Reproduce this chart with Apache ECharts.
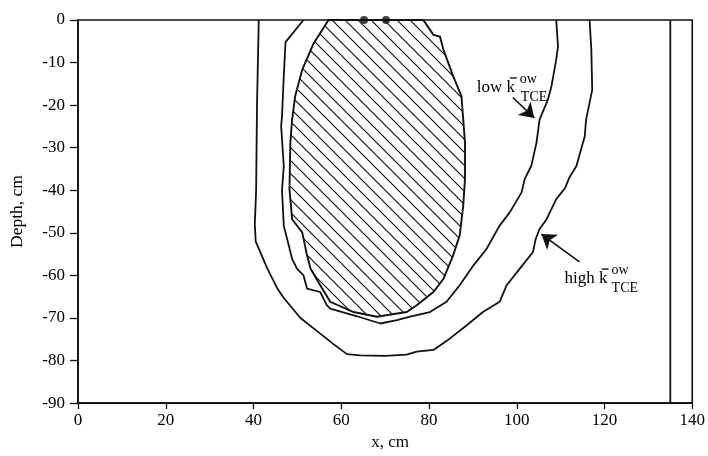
<!DOCTYPE html>
<html><head><meta charset="utf-8">
<script src="https://cdn.jsdelivr.net/npm/echarts@6/dist/echarts.min.js"></script>
<style>html,body{margin:0;padding:0;background:#fff}#c{width:708px;height:456px}</style>
</head><body><div id="c"></div>
<script>
// ---- data ----
const xTicks = [0, 20, 40, 60, 80, 100, 120, 140];
const yTicks = [-90, -80, -70, -60, -50, -40, -30, -20, -10, 0];

// outer contour (high k)
const highK = [
  [41.2,0],[41.0,-10],[40.8,-20],[40.7,-30],[40.6,-40],[40.3,-48],[40.5,-52],[43.1,-58.3],
  [45.4,-63],[46.9,-65.3],[50.7,-70],[54.5,-73.1],[58.3,-76.2],[61.3,-78.5],[64.3,-78.8],
  [70,-78.9],[74.9,-78.6],[77.2,-77.9],[81.0,-77.5],[84.8,-74.8],[88.6,-71.7],[92.3,-68.6],
  [96.1,-66.2],[97.7,-62.3],[100.7,-58.4],[103.7,-54.5],[104.3,-51.5],[105.2,-49.1],
  [106.8,-46.8],[109.0,-42.1],[111.0,-39.5],[112.0,-37],[113.6,-34.3],[115.5,-27.3],
  [115.8,-23.4],[117.2,-16.4],[117.0,-7.0],[116.6,0]
];
// middle contour (low k)
const lowK = [
  [51.4,0],[47.3,-5.2],[46.9,-13.2],[46.5,-22.6],[46.3,-24.9],[46.9,-34.3],[46.5,-40],
  [46.9,-48.3],[48.8,-56.1],[49.9,-58.4],[51.4,-60.0],[52.2,-63.1],[55.2,-63.9],[56.7,-67.0],
  [57.5,-67.8],[63.6,-69.6],[68.9,-71.3],[72.7,-70.5],[75.7,-69.7],[80.2,-68.6],[84.0,-66.2],
  [87.0,-62.3],[90.1,-57.7],[93.1,-53.8],[96.1,-48.3],[98.4,-45.2],[101.1,-40.5],[101.8,-37.4],
  [103.3,-34.3],[104.5,-28.8],[105.2,-23.4],[107.1,-18.7],[107.9,-15.6],[109.0,-9.3],
  [109.4,-6.2],[109.0,0]
];
// hatched region
const hatchRegion = [
  [57.1,0],[53.7,-5.5],[51.1,-11.7],[49.5,-17.9],[48.8,-23.4],[48.4,-28.8],[48.2,-39.7],
  [48.8,-46.8],[51.1,-49.9],[52.2,-55.3],[53.0,-58.4],[55.2,-62.3],[57.5,-66.2],[62.8,-68.6],
  [68.1,-69.7],[74.9,-68.6],[77.2,-67.0],[81.0,-63.9],[83.3,-60.8],[85.5,-55.3],[87.0,-50.6],
  [87.8,-43.6],[88.2,-37.4],[88.2,-28.8],[87.4,-17.9],[85.5,-13.2],[83.3,-7.0],[82.5,-3.9],
  [81.0,-3.5],[78.7,0]
];
// source points at the surface
const sourcePoints = [[65.2,0],[70.2,0]];
// right boundary line
const boundaryLine = [[135,0],[135,-90]];
// annotation arrows [from, to]
const lowArrow = [[99.1,-18.2],[104.0,-23.0]];
const highArrow = [[114.3,-56.8],[105.6,-50.3]];
// annotation anchors (left end of baseline)
const lowLabelAt = [90.9,-16.9];
const highLabelAt = [110.9,-61.8];

// ---- chart ----
const FONT = 'Liberation Serif';
const hatchCanvas = document.createElement('canvas');
(function(){
  const s = 13; hatchCanvas.width = s; hatchCanvas.height = s;
  const g = hatchCanvas.getContext('2d');
  g.strokeStyle = '#111'; g.lineWidth = 1.15;
  g.beginPath();
  g.moveTo(-2,-2); g.lineTo(s+2,s+2);
  g.moveTo(-2,s-2); g.lineTo(2,s+2);
  g.moveTo(s-2,-2); g.lineTo(s+2,2);
  g.stroke();
})();

const chart = echarts.init(document.getElementById('c'), null, {renderer:'canvas'});
const lineStyle = {color:'#111', width:1.8};
function contour(d){
  return {type:'line', data:d, showSymbol:false, symbol:'none', lineStyle:lineStyle, silent:true, clip:false, z:3};
}
chart.setOption({
  animation:false,
  backgroundColor:'#fff',
  grid:{left:77, right:15, top:20, bottom:51, show:true, borderColor:'#111', borderWidth:1.6, backgroundColor:'transparent'},
  xAxis:{type:'value', min:xTicks[0], max:xTicks[xTicks.length-1], interval:xTicks[1]-xTicks[0],
    axisLine:{show:true, onZero:false, lineStyle:{color:'#111', width:1.6}},
    axisTick:{show:true, length:6, lineStyle:{color:'#111', width:1.3}},
    axisLabel:{color:'#000', fontFamily:FONT, fontSize:17, margin:9},
    splitLine:{show:false},
    name:'x, cm', nameLocation:'middle', nameGap:26,
    nameTextStyle:{color:'#000', fontFamily:FONT, fontSize:17, padding:[0,0,0,10]}
  },
  yAxis:{type:'value', min:yTicks[0], max:yTicks[yTicks.length-1], interval:yTicks[1]-yTicks[0],
    axisLine:{show:true, onZero:false, lineStyle:{color:'#111', width:1.6}},
    axisTick:{show:true, length:8, lineStyle:{color:'#111', width:1.3}},
    axisLabel:{color:'#000', fontFamily:FONT, fontSize:17, margin:13},
    splitLine:{show:false},
    name:'Depth, cm', nameLocation:'middle', nameGap:52,
    nameTextStyle:{color:'#000', fontFamily:FONT, fontSize:17.5}
  },
  series:[
    {type:'custom', silent:true, z:2, clip:false, data:[[0,0]],
     renderItem:function(params, api){
       const pts = hatchRegion.map(p => api.coord(p));
       return {type:'polygon', shape:{points:pts},
         style:{fill:{image:hatchCanvas, repeat:'repeat'}, stroke:'#111', lineWidth:1.9}};
     }},
    contour(highK),
    contour(lowK),
    contour(boundaryLine),
    {type:'scatter', data:sourcePoints, symbolSize:8, itemStyle:{color:'#111'}, z:5, silent:true},
    {type:'lines', coordinateSystem:'cartesian2d', silent:true, z:5,
     symbol:['none','arrow'], symbolSize:[0,14],
     lineStyle:{color:'#111', width:1.6, opacity:1},
     data:[{coords:lowArrow},{coords:highArrow}]}
  ]
});

function label(word, at, supDx, subDx){
  const p = chart.convertToPixel({gridIndex:0}, at);
  const base = {fill:'#000', fontFamily:FONT};
  return {type:'group', x:p[0], y:p[1], silent:true, z:10, children:[
    {type:'text', style:Object.assign({text:word+' k', fontSize:17, x:0, y:4, verticalAlign:'bottom'}, base)},
    {type:'line', shape:{x1:supDx-10, y1:-14, x2:supDx-3, y2:-14}, style:{stroke:'#000', lineWidth:1.3}},
    {type:'text', style:Object.assign({text:'ow', fontSize:14, x:supDx, y:-6, verticalAlign:'bottom'}, base)},
    {type:'text', style:Object.assign({text:'TCE', fontSize:14, x:subDx, y:12, verticalAlign:'bottom'}, base)}
  ]};
}
chart.setOption({graphic:[
  label('low', lowLabelAt, 43, 44),
  label('high', highLabelAt, 47, 47)
]});
</script></body></html>
